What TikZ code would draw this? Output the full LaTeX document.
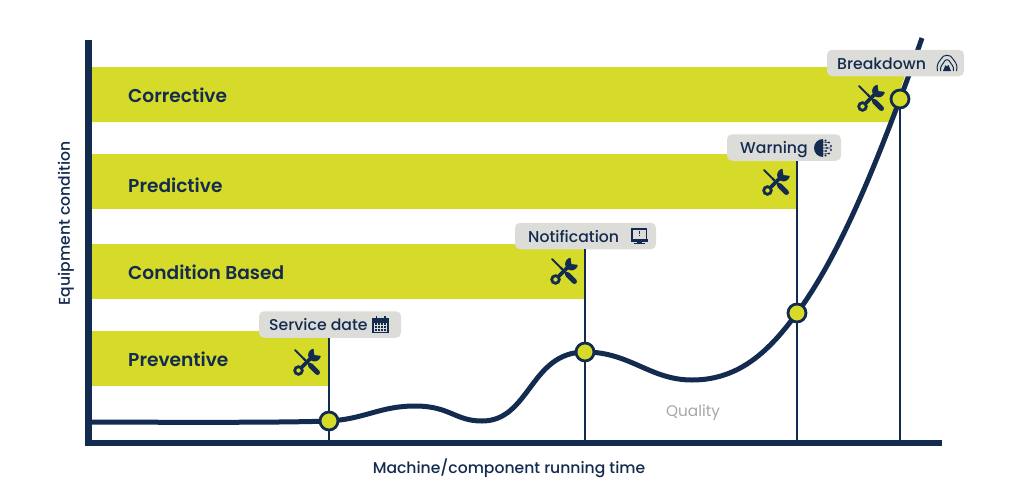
\documentclass[tikz,border=0pt]{standalone}
\usepackage{fontspec}
\setmainfont{Poppins}
\newfontfamily\medf{Poppins Medium}
\newfontfamily\semif{Poppins SemiBold}
\definecolor{navy}{HTML}{142B50}
\definecolor{lime}{HTML}{D6DA28}
\definecolor{tag}{HTML}{DCDCD8}
\definecolor{greytxt}{HTML}{A6A6A6}
\tikzset{
  barfill/.style={fill=lime,draw=none},
  barlabel/.style={anchor=base west,inner sep=0pt,text=navy,font=\fontsize{18.6}{20}\semif},
  tagbox/.style={fill=tag,draw=none,rounded corners=5pt,minimum height=26.5pt,inner sep=0pt},
  tagtext/.style={anchor=base west,inner sep=0pt,text=navy,font=\fontsize{15.7}{17}\medf},
  axis/.style={draw=navy,line width=6.5pt},
  drop/.style={draw=navy,line width=2.7pt},
  trend/.style={draw=navy,line width=5pt},
  dot/.style={circle,fill=lime,draw=navy,line width=2.8pt,minimum size=18pt,inner sep=0pt},
  axlabel/.style={inner sep=0pt,text=navy,font=\fontsize{15.6}{17}\medf},
  tools/.pic={
    % screwdriver
    \draw[navy,line width=2pt,line cap=round] (-12,-12) -- (-4,-4);
    \draw[navy,line width=2.2pt] (-4,-4) -- (3,3);
    \draw[navy,line width=5pt,line cap=round] (3.5,3.5) -- (10.5,10.5);
    % wrench
    \draw[navy,line width=3.8pt] (-6,6) -- (6,-6);
    \draw[navy,line width=2.8pt] (-8.5,8.5) circle (3.8pt);
    \fill[navy] (7.5,-7) circle (6.4pt);
    \fill[lime] (7.5,-7) -- (6.5,-14) -- (15,-14) -- (15,-6) -- cycle;
  },
}
\begin{document}
\begin{tikzpicture}[x=1pt,y=-1pt]
\useasboundingbox (0,0) rectangle (1024,493);
% bars
\fill[barfill] (92,67) -- (908,67) -- (889,122) -- (92,122) -- cycle;
\node[barlabel] (corrective) at (128,102) {Corrective};
\fill[barfill] (92,154) rectangle (797,209);
\node[barlabel] (predictive) at (128,192) {Predictive};
\fill[barfill] (92,244) rectangle (585,299);
\node[barlabel] (condition) at (128,279) {Condition Based};
\fill[barfill] (92,331) rectangle (329,386);
\node[barlabel] (preventive) at (128,366) {Preventive};
% anchor points
\coordinate (a1) at (329,440);
\coordinate (a2) at (585,440);
\coordinate (a3) at (797,440);
\coordinate (a4) at (900,440);
\coordinate (origin) at (88.5,443);
\coordinate (ytop) at (88.5,40);
\coordinate (xend) at (942,443);
\coordinate (cstart) at (92,422);
\coordinate (cend) at (922,38);
\coordinate (p1) at (329,421);
\coordinate (p2) at (585,352);
\coordinate (p3) at (797,313);
\coordinate (p4) at (900,99);
% tag boxes
\node[tagbox,minimum width=142pt] (tagA) at (330,324.5) {};
\node[tagbox,minimum width=141pt] (tagB) at (585.5,236) {};
\node[tagbox,minimum width=114pt] (tagC) at (784,147.5) {};
% drop lines
\draw[drop] (tagA.south -| p1) -- (a1);
\draw[drop] (tagB.south -| p2) -- (a2);
\draw[drop] (tagC.south -| p3) -- (a3);
\draw[drop] (p4) -- (a4);
% trend
\draw[trend] (cstart) .. controls (200,422.5) and (290,422.5) .. (p1)
  .. controls (365,419) and (380,406) .. (415,406)
  .. controls (450,406) and (455,421) .. (482,421)
  .. controls (530,421) and (530,352) .. (p2)
  .. controls (630,352) and (650,380) .. (692,380)
  .. controls (740,380) and (770,350) .. (p3)
  .. controls (840,255) and (875,165) .. (p4)
  .. controls (908,78) and (915,58) .. (cend);
% breakdown tag sits over trend
\node[tagbox,minimum width=137pt] (tagD) at (895.5,63) {};
% axes
\draw[axis] (ytop) -- (origin) -- (xend);
% dots
\node[dot] (d1) at (p1) {};
\node[dot] (d2) at (p2) {};
\node[dot] (d3) at (p3) {};
\node[dot] (d4) at (p4) {};
% tag texts
\node[tagtext] (t1) at (269,330.5) {Service date};
\node[tagtext] (t2) at (528,242) {Notification};
\node[tagtext] (t3) at (740,153.5) {Warning};
\node[tagtext] (t4) at (837,69.5) {Breakdown};
% calendar
\fill[navy] (372,317.5) rectangle (389,333);
\fill[tag] (374,322.5) rectangle (387,331.5);
\foreach \i in {0,1,2,3}\foreach \j in {0,1,2}{\fill[navy] (374.8+\i*2.9,323.3+\j*2.7) rectangle ++(2,2);}
\fill[navy] (375.5,315.5) rectangle ++(1.6,3);
\fill[navy] (384,315.5) rectangle ++(1.6,3);
% monitor
\draw[navy,line width=1.8pt] (632,229) rectangle (646.5,239.5);
\fill[navy] (631,239) rectangle (647.5,241.5);
\fill[navy] (637,241.5) rectangle (641.5,243);
\fill[navy] (634,243) rectangle (644.5,244.3);
\fill[navy] (638.9,231) rectangle ++(.8,3.4);
\fill[navy] (638.9,235.2) rectangle ++(.8,.9);
% brain
\fill[navy] (823,139) arc (90:270:9pt) -- cycle;
\foreach \a/\b in {825.5/140.5,829/142.5,831/146,831/150,829/153.5,825.5/155.5,826/145,827/148,826/151}{\fill[navy] (\a,\b) circle (1.15pt);}
\draw[navy,line width=.7pt] (823,142) -- (829,142.5) (823,145) -- (826,145) (823,148) -- (831,148) (823,151) -- (826,151) (823,154) -- (829,153.5);
% volcano
\draw[navy,line width=1pt] (937.5,71) .. controls (936,62) and (940,62) .. (941,59) .. controls (943,54) and (951,54) .. (953,59) .. controls (954,62) and (958,62) .. (956.5,71);
\draw[navy,line width=1pt] (940.5,71) .. controls (940,65) and (943,65) .. (944,62) .. controls (945,59) and (949,59) .. (950,62) .. controls (951,65) and (954,65) .. (953.5,71);
\fill[navy] (943,71) -- (945.5,65) -- (946.5,66.5) -- (948.5,65) -- (951,71) -- cycle;
% tools
\pic at (307,362) {tools};
\pic at (564,271) {tools};
\pic at (776,182) {tools};
\pic at (871,98) {tools};
% free labels
\node[inner sep=0pt,text=greytxt,font=\fontsize{15.3}{17}\selectfont] (quality) at (693,413) {Quality};
\node[axlabel] (xlab) at (509,468) {Machine/component running time};
\node[axlabel,rotate=90] (ylab) at (66,223.5) {Equipment condition};
\end{tikzpicture}
\end{document}
